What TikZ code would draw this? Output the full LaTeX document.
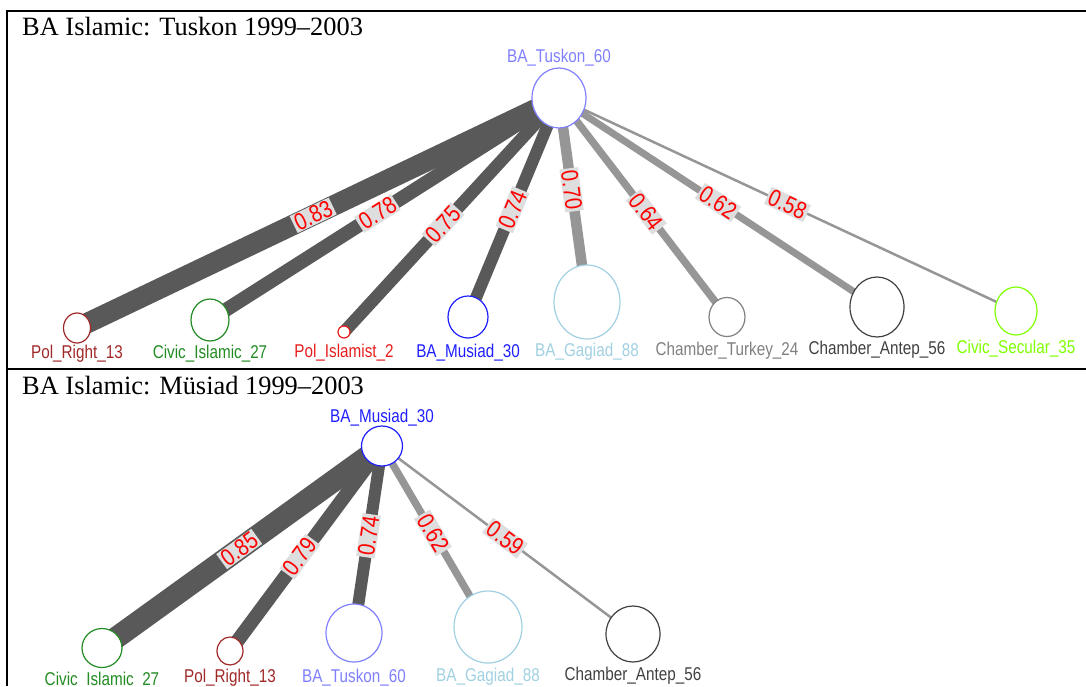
\documentclass[tikz,border=0pt]{standalone}
\usepackage{fontspec}
\usepackage{graphicx}
\setmainfont{Liberation Serif}
\newfontfamily\lsans{Liberation Sans}
\usetikzlibrary{shapes.geometric,backgrounds}
\definecolor{ctus}{RGB}{128,128,255}
\definecolor{cpr}{RGB}{160,40,40}
\definecolor{cci}{RGB}{34,139,34}
\definecolor{cpi}{RGB}{230,30,30}
\definecolor{cmu}{RGB}{30,30,255}
\definecolor{cga}{RGB}{160,208,225}
\definecolor{cct}{RGB}{128,128,128}
\definecolor{cca}{RGB}{64,64,64}
\definecolor{ccs}{RGB}{127,255,0}
\definecolor{edark}{RGB}{89,89,89}
\definecolor{elight}{RGB}{150,150,150}
\definecolor{lblbg}{RGB}{222,222,222}
\definecolor{lblred}{RGB}{255,0,0}
\tikzset{
  vtx/.style={ellipse, draw, fill=white, line width=1.2pt, inner sep=0pt},
  vlab/.style={anchor=base, inner sep=0pt, font=\lsans\fontsize{18.5}{20}\selectfont},
  wlab/.style={sloped, fill=lblbg, text=lblred, inner xsep=2pt, inner ysep=0.8pt, font=\lsans\fontsize{24}{26}\selectfont},
  ttl/.style={anchor=base west, inner sep=0pt, font=\fontsize{26.4}{28}\selectfont},
  edk/.style={draw=edark},
  elt/.style={draw=elight},
  frameline/.style={line width=2pt, draw=black}
}
\newcommand{\nx}[1]{\scalebox{0.825}[1]{#1}}
\newcommand{\wx}[1]{\scalebox{0.84}[1]{#1}}
\begin{document}
\begin{tikzpicture}[x=1pt,y=-1pt]
\useasboundingbox (0,0) rectangle (1086,686);
\clip (0,0) rectangle (1086,686);
% frame
\draw[frameline] (1086,10.5) -- (6.5,10.5) -- (6.5,686);
\draw[frameline] (6.5,369) -- (1086,369);
% titles
\node[ttl] (t1) at (22,35) {BA Islamic: Tuskon 1999--2003};
\node[ttl] (t2) at (22,394) {BA Islamic: Müsiad 1999--2003};
% ---------- top panel nodes
\node[vtx, draw=ctus, minimum width=54pt, minimum height=60pt] (tk) at (559,98) {};
\node[vtx, draw=cpr, minimum width=27pt, minimum height=30pt] (prA) at (77,328) {};
\node[vtx, draw=cci, minimum width=38pt, minimum height=42pt] (ciA) at (210,320) {};
\node[vtx, draw=cpi, minimum width=12pt, minimum height=12pt] (piA) at (344,332) {};
\node[vtx, draw=cmu, minimum width=40pt, minimum height=42pt] (muA) at (468,317) {};
\node[vtx, draw=cga, minimum width=66pt, minimum height=74pt] (gaA) at (587,302) {};
\node[vtx, draw=cct, minimum width=36pt, minimum height=39pt] (ctA) at (727,317) {};
\node[vtx, draw=cca, minimum width=54pt, minimum height=60pt] (caA) at (877,307) {};
\node[vtx, draw=ccs, minimum width=42pt, minimum height=48pt] (csA) at (1016,311) {};
% top labels
\node[vlab, text=ctus] (tkL) at (559,62) {\nx{BA\_Tuskon\_60}};
\node[vlab, text=cpr] (prAL) at (77,358) {\nx{Pol\_Right\_13}};
\node[vlab, text=cci] (ciAL) at (210,358) {\nx{Civic\_Islamic\_27}};
\node[vlab, text=cpi] (piAL) at (344,357) {\nx{Pol\_Islamist\_2}};
\node[vlab, text=cmu] (muAL) at (468,357) {\nx{BA\_Musiad\_30}};
\node[vlab, text=cga] (gaAL) at (587,356) {\nx{BA\_Gagiad\_88}};
\node[vlab, text=cct] (ctAL) at (727,355) {\nx{Chamber\_Turkey\_24}};
\node[vlab, text=cca] (caAL) at (877,354) {\nx{Chamber\_Antep\_56}};
\node[vlab, text=ccs] (csAL) at (1016,353) {\nx{Civic\_Secular\_35}};
% ---------- bottom panel nodes
\node[vtx, draw=cmu, minimum width=41pt, minimum height=40pt] (muB) at (382,446) {};
\node[vtx, draw=cci, minimum width=40pt, minimum height=39pt] (ciB) at (102,648) {};
\node[vtx, draw=cpr, minimum width=26pt, minimum height=28pt] (prB) at (230,651) {};
\node[vtx, draw=ctus, minimum width=56pt, minimum height=58pt] (tkB) at (354,633) {};
\node[vtx, draw=cga, minimum width=68pt, minimum height=72pt] (gaB) at (488,627) {};
\node[vtx, draw=cca, minimum width=54pt, minimum height=56pt] (caB) at (633,634) {};
% bottom labels
\node[vlab, text=cmu] (muBL) at (382,422) {\nx{BA\_Musiad\_30}};
\node[vlab, text=cci] (ciBL) at (102,685) {\nx{Civic\_Islamic\_27}};
\node[vlab, text=cpr] (prBL) at (230,682) {\nx{Pol\_Right\_13}};
\node[vlab, text=ctus] (tkBL) at (354,682) {\nx{BA\_Tuskon\_60}};
\node[vlab, text=cga] (gaBL) at (488,681) {\nx{BA\_Gagiad\_88}};
\node[vlab, text=cca] (caBL) at (633,680) {\nx{Chamber\_Antep\_56}};
% ---------- edges (behind nodes)
\begin{pgfonlayer}{background}
\draw[edk, line width=20.5pt] (tk.center) -- (prA.center) node[wlab, pos=0.51] {\wx{0.83}};
\draw[edk, line width=14pt] (tk.center) -- (ciA.center) node[wlab, pos=0.52] {\wx{0.78}};
\draw[edk, line width=12.5pt] (tk.center) -- (piA.center) node[wlab, pos=0.54] {\wx{0.75}};
\draw[edk, line width=12pt] (tk.center) -- (muA.center) node[wlab, pos=0.51] {\wx{0.74}};
\draw[elt, line width=10.5pt] (tk.center) -- (gaA.center) node[wlab, pos=0.45] {\wx{0.70}};
\draw[elt, line width=7.5pt] (tk.center) -- (ctA.center) node[wlab, pos=0.52] {\wx{0.64}};
\draw[elt, line width=7pt] (tk.center) -- (caA.center) node[wlab, pos=0.50] {\wx{0.62}};
\draw[elt, line width=2.5pt] (tk.center) -- (csA.center) node[wlab, pos=0.50] {\wx{0.58}};
\draw[edk, line width=22pt] (muB.center) -- (ciB.center) node[wlab, pos=0.51] {\wx{0.85}};
\draw[edk, line width=14pt] (muB.center) -- (prB.center) node[wlab, pos=0.54] {\wx{0.79}};
\draw[edk, line width=12pt] (muB.center) -- (tkB.center) node[wlab, pos=0.48] {\wx{0.74}};
\draw[elt, line width=7.5pt] (muB.center) -- (gaB.center) node[wlab, pos=0.48] {\wx{0.62}};
\draw[elt, line width=2.5pt] (muB.center) -- (caB.center) node[wlab, pos=0.49] {\wx{0.59}};
\end{pgfonlayer}
\end{tikzpicture}
\end{document}
